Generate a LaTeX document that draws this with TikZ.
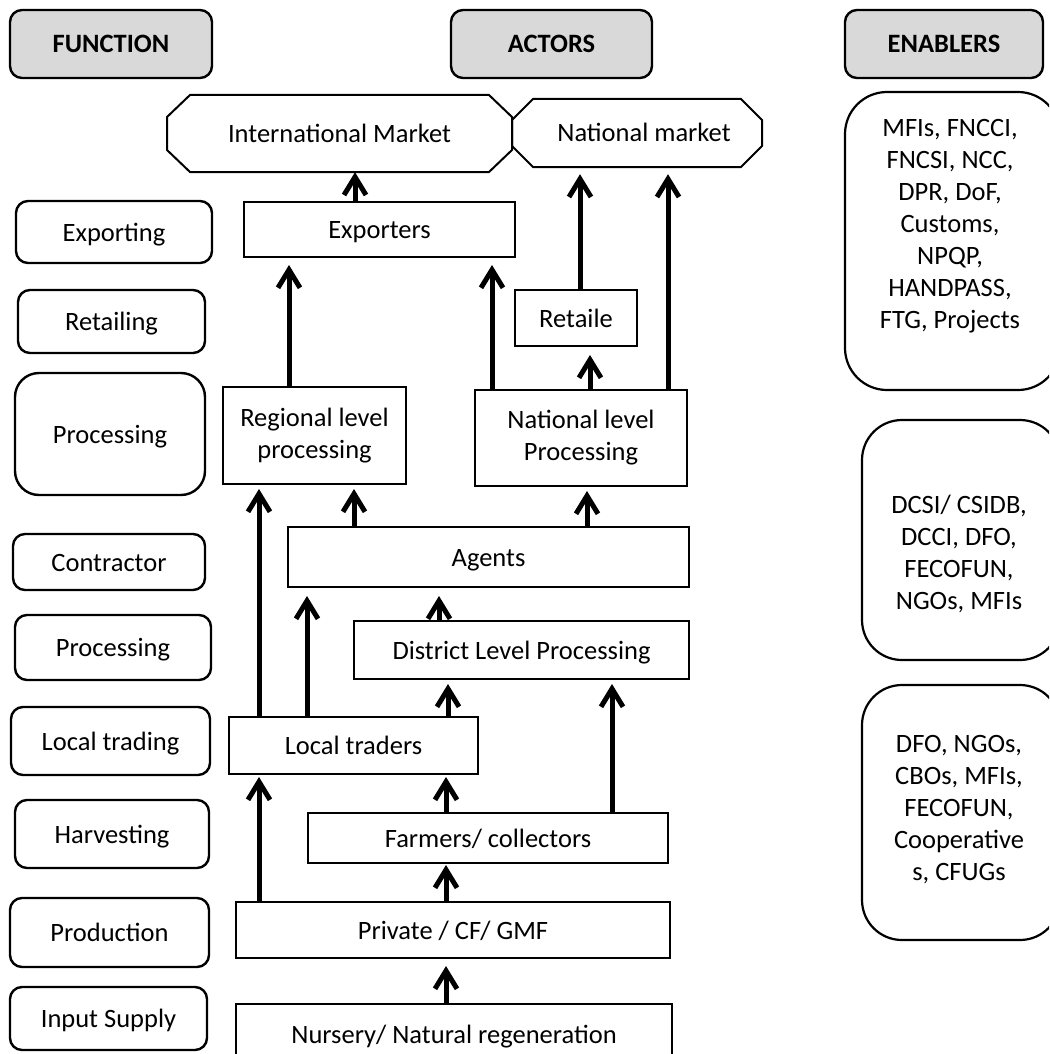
\documentclass[tikz,border=0pt]{standalone}
\usepackage{fontspec}
\setmainfont{Carlito}
\usetikzlibrary{arrows.meta}
\definecolor{headgray}{HTML}{D9D9D9}
\begin{document}
\begin{tikzpicture}[x=1pt,y=-1pt,
  every node/.style={font=\fontsize{26.5}{32}\selectfont, inner sep=0pt, align=center},
  oneline/.style={text height=21pt, text depth=3pt},
  frame/.style={draw, line width=2pt, rectangle},
  actor/.style={frame, oneline},
  func/.style={draw, line width=2.4pt, rounded corners=12pt, oneline},
  head/.style={func, fill=headgray, font=\fontsize{26.5}{32}\selectfont\bfseries},
  enab/.style={draw, line width=2.2pt, rounded corners=42pt},
  octa/.style={draw, line width=2pt, line join=miter},
  flow/.style={line width=5pt, line join=round,
               -{Straight Barb[length=18pt,width=22pt,line join=miter]}, shorten >=4pt},
]
\useasboundingbox (0,0) rectangle (1049,1054);
\clip (0,0) rectangle (1049,1054);

% ---------- column headers ----------
\node[head, minimum width=202pt, minimum height=68pt] (hfun) at (111,44) {FUNCTION};
\node[head, minimum width=201pt, minimum height=68pt] (hact) at (551.5,44) {ACTORS};
\node[head, minimum width=198pt, minimum height=68pt] (hena) at (944,44) {ENABLERS};

% ---------- function column ----------
\node[func, minimum width=196pt, minimum height=62pt] (fexp) at (114,232) {Exporting};
\node[func, minimum width=187pt, minimum height=63pt] (fret) at (111.5,321.5) {Retailing};
\node[func, rounded corners=24pt, minimum width=190pt, minimum height=122pt] (fpro1) at (110,434) {Processing};
\node[func, minimum width=192pt, minimum height=56pt] (fcon) at (109,562) {Contractor};
\node[func, minimum width=196pt, minimum height=65pt] (fpro2) at (113,647.5) {Processing};
\node[func, minimum width=199pt, minimum height=68pt] (floc) at (110.5,741) {Local trading};
\node[func, minimum width=194pt, minimum height=68pt] (fhar) at (112,834) {Harvesting};
\node[func, minimum width=199pt, minimum height=69pt] (fprod) at (109.5,932.5) {Production};
\node[func, minimum width=197pt, minimum height=63pt] (finp) at (108.5,1018.5) {Input Supply};

% ---------- markets (octagons) ----------
\draw[octa] (190,95) -- (489,95) -- (512,117) -- (512,150) -- (489,172)
  -- (190,172) -- (167,150) -- (167,117) -- cycle;
\node[oneline, minimum width=345pt, minimum height=77pt] (intl) at (339.5,133.5) {International Market};
\draw[octa] (533,99) -- (741,99) -- (762,120) -- (762,146) -- (741,167)
  -- (533,167) -- (512,146) -- (512,120) -- cycle;
\node[oneline, minimum width=250pt, minimum height=68pt] (nat) at (637,133) {\hspace*{14pt}National market};

% ---------- actors ----------
\node[actor, minimum width=271pt, minimum height=55pt] (exp) at (379.5,229.5) {Exporters};
\node[actor, minimum width=122pt, minimum height=56pt] (ret) at (576,318) {Retaile};
\node[frame, minimum width=183pt, minimum height=97pt] (reg) at (314.5,435.5) {Regional level\\processing};
\node[frame, minimum width=212pt, minimum height=96pt] (natp) at (581,438) {National level\\Processing};
\node[actor, minimum width=401pt, minimum height=60pt] (agt) at (488.5,557) {Agents};
\node[actor, minimum width=335pt, minimum height=58pt] (dist) at (521.5,650) {District Level Processing};
\node[actor, minimum width=249pt, minimum height=57pt] (loc) at (353.5,745.5) {Local traders};
\node[actor, minimum width=360pt, minimum height=50pt] (farm) at (488,838) {Farmers/ collectors};
\node[actor, minimum width=434pt, minimum height=56pt] (priv) at (453,930) {Private / CF/ GMF};
\node[actor, minimum width=436pt, minimum height=60pt] (nurs) at (454,1034) {Nursery/ Natural regeneration};

% ---------- enablers ----------
\node[enab, minimum width=215pt, minimum height=298pt] (en1) at (952.5,241) {};
\node (en1t) at (950,226) {MFIs, FNCCI,\\FNCSI, NCC,\\DPR, DoF,\\Customs,\\NPQP,\\HANDPASS,\\FTG, Projects};
\node[enab, rounded corners=40pt, minimum width=198pt, minimum height=240pt] (en2) at (961,540) {};
\node (en2t) at (959,554) {DCSI/ CSIDB,\\DCCI, DFO,\\FECOFUN,\\NGOs, MFIs};
\node[enab, rounded corners=40pt, minimum width=198pt, minimum height=255pt] (en3) at (961,812.5) {};
\node (en3t) at (959,810) {DFO, NGOs,\\CBOs, MFIs,\\FECOFUN,\\Cooperative\\s, CFUGs};

% ---------- arrow columns ----------
\coordinate (c259) at (259,0);
\coordinate (c289) at (289,0);
\coordinate (c307) at (307,0);
\coordinate (c354) at (354,0);
\coordinate (c355) at (355,0);
\coordinate (c439) at (439,0);
\coordinate (c446) at (446,0);
\coordinate (c448) at (448,0);
\coordinate (c492) at (492,0);
\coordinate (c580) at (580,0);
\coordinate (c587) at (587,0);
\coordinate (c590) at (590,0);
\coordinate (c612) at (612,0);
\coordinate (c668) at (668,0);

% ---------- flows ----------
\draw[flow, shorten >=0pt] (exp.north -| c355) -- (intl.south -| c355);
\draw[flow, shorten >=7pt] (reg.north -| c289) -- (exp.south -| c289);
\draw[flow, shorten >=7pt] (natp.north -| c492) -- (exp.south -| c492);
\draw[flow, shorten >=7pt] (ret.north -| c580) -- (nat.south -| c580);
\draw[flow, shorten >=7pt] (natp.north -| c668) -- (nat.south -| c668);
\draw[flow, shorten >=8pt] (natp.north -| c590) -- (ret.south -| c590);
\draw[flow] (loc.north -| c259) -- (reg.south -| c259);
\draw[flow] (agt.north -| c354) -- (reg.south -| c354);
\draw[flow] (agt.north -| c587) -- (natp.south -| c587);
\draw[flow, shorten >=8pt] (loc.north -| c307) -- (agt.south -| c307);
\draw[flow, shorten >=8pt] (dist.north -| c439) -- (agt.south -| c439);
\draw[flow] (loc.north -| c448) -- (dist.south -| c448);
\draw[flow] (farm.north -| c612) -- (dist.south -| c612);
\draw[flow, shorten >=2pt] (priv.north -| c259) -- (loc.south -| c259);
\draw[flow, shorten >=2pt] (farm.north -| c446) -- (loc.south -| c446);
\draw[flow, shorten >=1pt] (priv.north -| c446) -- (farm.south -| c446);
\draw[flow, shorten >=7pt] (nurs.north -| c446) -- (priv.south -| c446);
\end{tikzpicture}
\end{document}
